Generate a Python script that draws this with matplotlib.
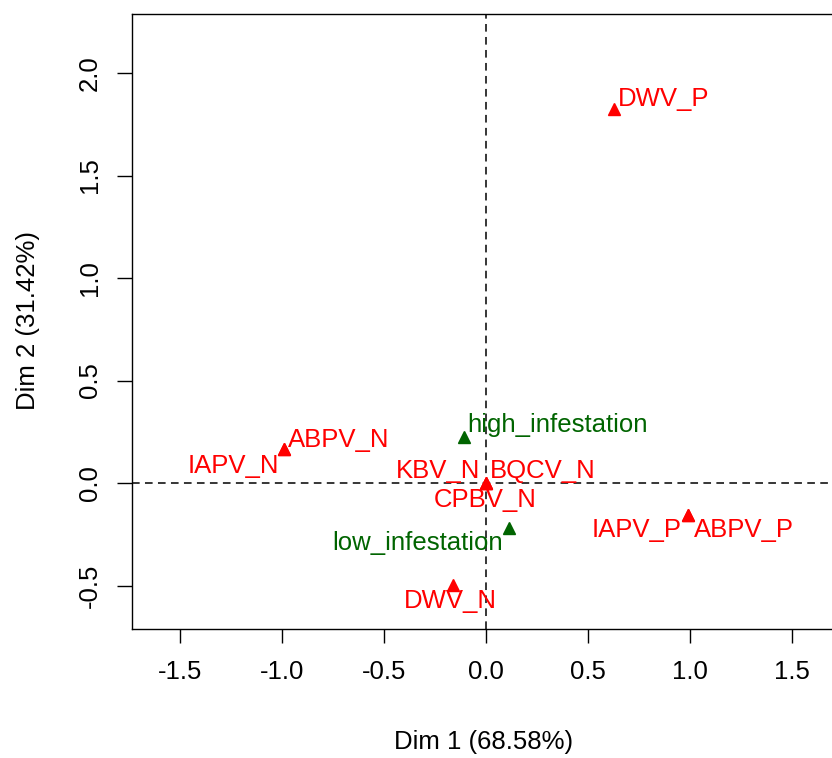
import matplotlib
matplotlib.use("Agg")
import matplotlib.pyplot as plt

plt.rcParams['font.family'] = ['Liberation Sans', 'DejaVu Sans']
plt.rcParams['axes.unicode_minus'] = False

# MCA category coordinates (Dim 1, Dim 2)
virus_labels = ['DWV_P', 'ABPV_N', 'IAPV_N', 'KBV_N', 'BQCV_N', 'CPBV_N',
                'IAPV_P', 'ABPV_P', 'DWV_N']
virus_dim1 = [0.627, -0.990, -0.990, 0.000, 0.000, 0.000, 0.990, 0.990, -0.162]
virus_dim2 = [1.824, 0.166, 0.166, 0.001, 0.001, 0.001, -0.156, -0.156, -0.498]

infest_labels = ['high_infestation', 'low_infestation']
infest_dim1 = [-0.108, 0.113]
infest_dim2 = [0.224, -0.220]

xlab = "Dim 1 (68.58%)"
ylab = "Dim 2 (31.42%)"

# label placement (pixel offsets from the point, alignment)
label_style = {
    'DWV_P': ((4, 3), 'left'),
    'ABPV_N': ((4, 2), 'left'),
    'IAPV_N': ((-5, -24), 'right'),
    'KBV_N': ((-6, 5), 'right'),
    'BQCV_N': ((4, 5), 'left'),
    'CPBV_N': ((-1, -24), 'center'),
    'IAPV_P': ((-6, -22), 'right'),
    'ABPV_P': ((6, -22), 'left'),
    'DWV_N': ((-2, -23), 'center'),
    'high_infestation': ((3, 5), 'left'),
    'low_infestation': ((-6, -22), 'right'),
}

red = '#FF0000'
green = '#006400'
fs = 18.5

fig = plt.figure(figsize=(8.32, 7.58), dpi=100)
ax = fig.add_axes([132 / 832, (758 - 629) / 758, 717 / 832, 615 / 758])

ax.axhline(0, color='black', lw=1.1, ls=(0, (5, 3.5)), zorder=1)
ax.axvline(0, color='black', lw=1.1, ls=(0, (5, 3.5)), zorder=1)

ax.plot(virus_dim1, virus_dim2, ls='none', marker='^', ms=8.5, color=red, zorder=3)
ax.plot(infest_dim1, infest_dim2, ls='none', marker='^', ms=8.5, color=green, zorder=3)

for lab, x, y in zip(virus_labels, virus_dim1, virus_dim2):
    off, ha = label_style[lab]
    ax.annotate(lab, (x, y), xytext=off, textcoords='offset pixels',
                ha=ha, va='baseline', color=red, fontsize=fs)
for lab, x, y in zip(infest_labels, infest_dim1, infest_dim2):
    off, ha = label_style[lab]
    ax.annotate(lab, (x, y), xytext=off, textcoords='offset pixels',
                ha=ha, va='baseline', color=green, fontsize=fs)

ax.set_xlim(-1.735, 1.78)
ax.set_ylim(-0.712, 2.288)
ax.set_xticks([-1.5, -1.0, -0.5, 0.0, 0.5, 1.0, 1.5])
ax.set_yticks([-0.5, 0.0, 0.5, 1.0, 1.5, 2.0])
ax.tick_params(axis='x', length=10, width=1, pad=12, labelsize=fs)
ax.tick_params(axis='y', length=10.5, width=1, pad=11, labelsize=fs, labelrotation=90)
for t in ax.get_yticklabels():
    t.set_va('center')

for sp in ax.spines.values():
    sp.set_linewidth(1)
    sp.set_color('black')

ax.set_xlabel(xlab, fontsize=fs)
ax.xaxis.set_label_coords((484 - 132) / 717, (629 - 742) / 615)
ax.xaxis.label.set_va('center')
ax.set_ylabel(ylab, fontsize=fs)
ax.yaxis.set_label_coords((28 - 132) / 717, (629 - 320) / 615)
ax.yaxis.label.set_va('center')

fig.savefig('out.png', dpi=100)
